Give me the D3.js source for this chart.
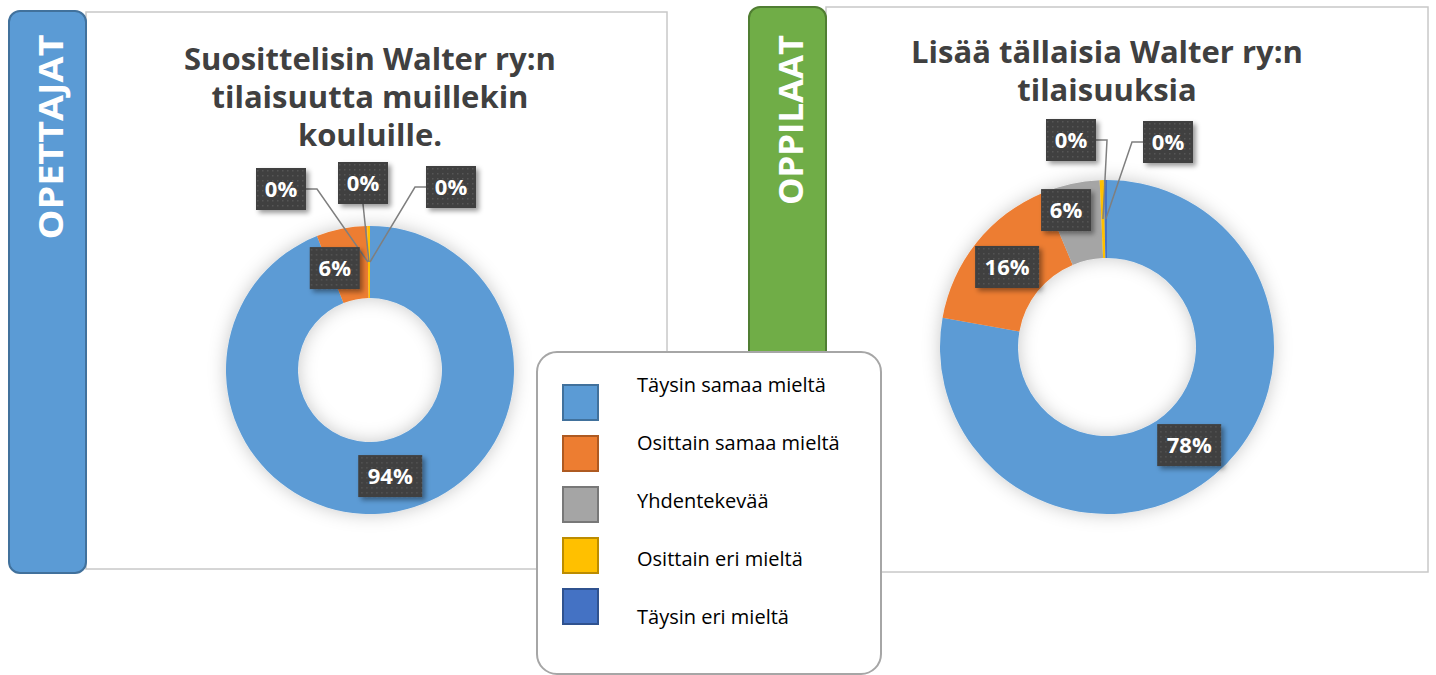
<!DOCTYPE html>
<html>
<head>
<meta charset="utf-8">
<script src="https://cdn.jsdelivr.net/npm/d3@7"></script>
<style>
    body { margin: 0; background: #fff; }
    text { font-family: "Open Sans", "DejaVu Sans", sans-serif; }
    .title { font-weight: 700; fill: #404040; }
    .side-label { font-weight: 700; fill: #fff; }
    .data-label { font-weight: 700; fill: #fff; }
    .legend-text { fill: #000; }
</style>
</head>
<body>
<div id="chart"></div>
<script>

// answer categories (legend order)
const categories = ["Täysin samaa mieltä", "Osittain samaa mieltä", "Yhdentekevää", "Osittain eri mieltä", "Täysin eri mieltä"];

// percentages
const teacherValues = [94, 5.7, 0, 0.3, 0];
const studentValues = [77.8, 15.9, 5.6, 0.4, 0.3];

const sliceColors = ["#5B9BD5", "#ED7D31", "#A5A5A5", "#FFC000", "#4472C4"];
const sliceStrokes = ["#41719C", "#AE5A21", "#787878", "#BC8C00", "#2F528F"];

const teacherTitle = ["Suosittelisin Walter ry:n", "tilaisuutta muillekin", "kouluille."];
const studentTitle = ["Lisää tällaisia Walter ry:n", "tilaisuuksia"];

let svg = d3.select("#chart").append("svg")
    .attr("width", 1436)
    .attr("height", 675);

// filters + label pattern
let defs = svg.append("defs");

let glow = defs.append("filter").attr("id", "glow")
    .attr("x", "-30%").attr("y", "-30%").attr("width", "160%").attr("height", "160%");
glow.append("feGaussianBlur").attr("in", "SourceAlpha").attr("stdDeviation", 9).attr("result", "blur");
glow.append("feFlood").attr("flood-color", "#000").attr("flood-opacity", 0.22);
glow.append("feComposite").attr("in2", "blur").attr("operator", "in").attr("result", "shadow");
let gm = glow.append("feMerge");
gm.append("feMergeNode").attr("in", "shadow");
gm.append("feMergeNode").attr("in", "SourceGraphic");

let boxShadow = defs.append("filter").attr("id", "boxShadow")
    .attr("x", "-30%").attr("y", "-30%").attr("width", "170%").attr("height", "170%");
boxShadow.append("feDropShadow").attr("dx", 3).attr("dy", 3).attr("stdDeviation", 2.5)
    .attr("flood-color", "#000").attr("flood-opacity", 0.4);

let dots = defs.append("pattern").attr("id", "dots")
    .attr("width", 5).attr("height", 5).attr("patternUnits", "userSpaceOnUse");
dots.append("rect").attr("width", 5).attr("height", 5).attr("fill", "#3F3F3F");
dots.append("rect").attr("x", 1).attr("y", 1).attr("width", 1.5).attr("height", 1.5).attr("fill", "#565656");


class DonutVis {

    constructor(panel, values, title, opts){
        this.panel = panel;
        this.values = values;
        this.title = title;
        this.opts = opts;
        this.initVis();
    }

    initVis(){
        let vis = this;
        let o = vis.opts;

        // frame of the chart area
        svg.append("rect")
            .attr("x", o.box[0]).attr("y", o.box[1])
            .attr("width", o.box[2]).attr("height", o.box[3])
            .attr("fill", "#fff")
            .attr("stroke", "#C8C8C8")
            .attr("stroke-width", 1.5);

        // coloured side tab
        svg.append("rect")
            .attr("x", o.side[0]).attr("y", o.side[1])
            .attr("width", o.side[2]).attr("height", o.side[3])
            .attr("rx", 11)
            .attr("fill", o.sideFill)
            .attr("stroke", o.sideStroke)
            .attr("stroke-width", 2);

        svg.append("text")
            .attr("class", "side-label")
            .attr("transform", `translate(${o.sideText[0]}, ${o.sideText[1]}) rotate(-90)`)
            .attr("text-anchor", "middle")
            .attr("dy", "0.36em")
            .attr("font-size", 34)
            .attr("textLength", o.sideTextLen)
            .attr("lengthAdjust", "spacingAndGlyphs")
            .text(vis.panel);

        // title
        svg.append("text")
            .attr("class", "title")
            .attr("text-anchor", "middle")
            .attr("font-size", 31)
            .selectAll("tspan")
            .data(vis.title)
            .enter().append("tspan")
            .attr("x", o.titleX)
            .attr("y", (d, i) => o.titleY + i * 38)
            .text(d => d);

        vis.g = svg.append("g")
            .attr("transform", `translate(${o.cx}, ${o.cy})`);

        vis.pie = d3.pie().sort(null).value(d => d);
        vis.arc = d3.arc().innerRadius(o.inner).outerRadius(o.outer);
        vis.midArc = d3.arc().innerRadius((o.inner + o.outer) / 2).outerRadius((o.inner + o.outer) / 2);

        vis.wrangleData();
    }

    wrangleData(){
        let vis = this;
        vis.arcs = vis.pie(vis.values);
        vis.arcs.forEach((a, i) => {
            a.color = sliceColors[i];
            a.label = Math.round(vis.values[i]) + "%";
            a.anchor = vis.midArc.centroid(a);
        });
        vis.updateVis();
    }

    updateVis(){
        let vis = this;
        let o = vis.opts;

        vis.g.append("g")
            .attr("filter", "url(#glow)")
            .selectAll("path")
            .data(vis.arcs)
            .enter().append("path")
            .attr("d", vis.arc)
            .attr("fill", d => d.color);

        // label positions: centroid (+ nudge), or a manual spot for the tiny slices
        vis.arcs.forEach((a, i) => {
            let p = o.labelPos[i];
            if (p && p.leader) {
                a.pos = [p.dx, p.dy];
            } else {
                a.pos = [a.anchor[0] + (p ? p.dx : 0), a.anchor[1] + (p ? p.dy : 0)];
            }
            a.leader = p && p.leader;
            a.w = a.label.length > 2 ? 64 : 50;
            a.h = 42;
        });

        // leader lines
        vis.g.selectAll(".leader")
            .data(vis.arcs.filter(a => a.leader))
            .enter().append("path")
            .attr("class", "leader")
            .attr("fill", "none")
            .attr("stroke", "#7F7F7F")
            .attr("stroke-width", 1.5)
            .attr("d", a => {
                let dx = a.anchor[0] - a.pos[0];
                if (dx > 30) {
                    let x0 = a.pos[0] + a.w / 2;
                    return `M${x0},${a.pos[1]}H${x0 + 11}L${a.anchor[0]},${a.anchor[1]}`;
                } else if (dx < -30) {
                    let x0 = a.pos[0] - a.w / 2;
                    return `M${x0},${a.pos[1]}H${x0 - 11}L${a.anchor[0]},${a.anchor[1]}`;
                }
                return `M${a.pos[0]},${a.pos[1] + a.h / 2}L${a.anchor[0]},${a.anchor[1]}`;
            });

        let labels = vis.g.selectAll(".lbl")
            .data(vis.arcs)
            .enter().append("g")
            .attr("class", "lbl")
            .attr("transform", a => `translate(${a.pos[0]}, ${a.pos[1]})`);

        labels.append("rect")
            .attr("x", a => -a.w / 2).attr("y", a => -a.h / 2)
            .attr("width", a => a.w).attr("height", a => a.h)
            .attr("fill", "url(#dots)")
            .attr("filter", "url(#boxShadow)");

        labels.append("text")
            .attr("class", "data-label")
            .attr("text-anchor", "middle")
            .attr("dy", "0.36em")
            .attr("font-size", 22)
            .text(a => a.label);
    }
}

new DonutVis("OPETTAJAT", teacherValues, teacherTitle, {
    box: [86, 12, 581, 557],
    side: [9, 11, 77, 562],
    sideFill: "#5B9BD5", sideStroke: "#41719C",
    sideText: [51, 137], sideTextLen: 205,
    titleX: 370, titleY: 70,
    cx: 370, cy: 370, inner: 72, outer: 144,
    labelPos: [
        null,
        {dx: -14, dy: 4},
        {dx: -89, dy: -181, leader: true},
        {dx: -7, dy: -187, leader: true},
        {dx: 81, dy: -183, leader: true}
    ]
});

new DonutVis("OPPILAAT", studentValues, studentTitle, {
    box: [826, 7, 602, 565],
    side: [749, 7, 77, 566],
    sideFill: "#70AD47", sideStroke: "#507E32",
    sideText: [791, 120], sideTextLen: 170,
    titleX: 1107, titleY: 63,
    cx: 1107, cy: 347, inner: 89, outer: 167,
    labelPos: [
        null,
        null,
        {dx: -13, dy: -12},
        {dx: -36, dy: -207, leader: true},
        {dx: 61, dy: -205, leader: true}
    ]
});

// legend
let legend = svg.append("g");
legend.append("rect")
    .attr("x", 537).attr("y", 352)
    .attr("width", 344).attr("height", 322)
    .attr("rx", 20)
    .attr("fill", "#fff")
    .attr("stroke", "#A6A6A6")
    .attr("stroke-width", 2);

let items = legend.selectAll(".item")
    .data(categories)
    .enter().append("g")
    .attr("class", "item")
    .attr("transform", (d, i) => `translate(0, ${i * 51})`);

items.append("rect")
    .attr("x", 563).attr("y", 385)
    .attr("width", 35).attr("height", 35)
    .attr("fill", (d, i) => sliceColors[i])
    .attr("stroke", (d, i) => sliceStrokes[i])
    .attr("stroke-width", 2);

items.append("text")
    .attr("class", "legend-text")
    .attr("x", 637)
    .attr("y", (d, i) => 392 + i * 7)
    .attr("font-size", 20)
    .text(d => d);

</script>
</body>
</html>
